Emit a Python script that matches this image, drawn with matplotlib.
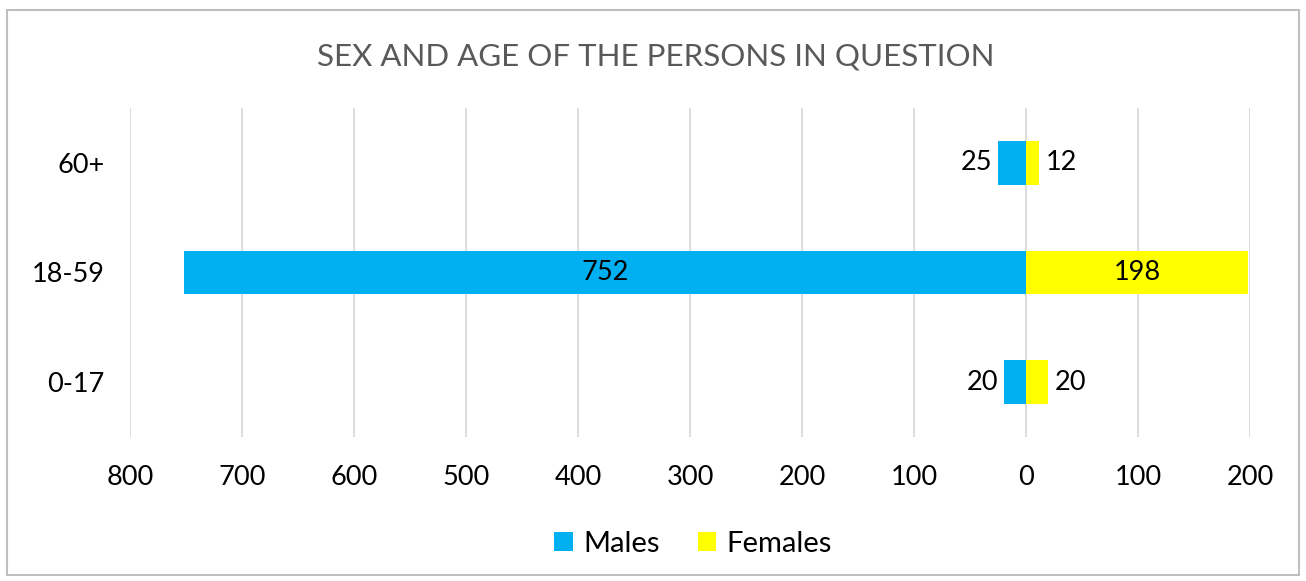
import numpy as np
import matplotlib
matplotlib.use('Agg')
import matplotlib.pyplot as plt
from matplotlib.patches import Rectangle

# Data
age_groups = ['0-17', '18-59', '60+']
males = [20, 752, 25]
females = [20, 198, 12]
x_ticks = [-800, -700, -600, -500, -400, -300, -200, -100, 0, 100, 200]

plt.rcParams['font.family'] = ['Lato', 'DejaVu Sans']

fig = plt.figure(figsize=(13.06, 5.81), dpi=100)
fig.patch.set_facecolor('white')

# chart border
fig.add_artist(Rectangle((7 / 1306, 1 - 575 / 581), 1292 / 1306, 565 / 581,
                         transform=fig.transFigure, fill=False,
                         edgecolor='#bfbfbf', linewidth=1.5))

ax = fig.add_axes([130 / 1306, 1 - 437 / 581, 1120 / 1306, 329 / 581])

y = np.arange(len(age_groups))
male_color = '#00B0F0'
female_color = '#FFFF00'
fs = 19.5

ax.barh(y, [-m for m in males], height=0.4, color=male_color, label='Males', zorder=3)
ax.barh(y, females, height=0.4, color=female_color, label='Females', zorder=3)

# value labels
for i in range(len(age_groups)):
    m, f = males[i], females[i]
    if m > 100:
        ax.text(-m / 2, y[i], str(m), ha='center', va='center', fontsize=fs, color='black', zorder=4)
    else:
        ax.text(-m - 5, y[i], str(m), ha='right', va='center', fontsize=fs, color='black', zorder=4)
    if f > 100:
        ax.text(f / 2, y[i], str(f), ha='center', va='center', fontsize=fs, color='black', zorder=4)
    else:
        ax.text(f + 6, y[i], str(f), ha='left', va='center', fontsize=fs, color='black', zorder=4)

ax.set_xlim(-800, 200)
ax.set_ylim(-0.5, 2.5)
ax.set_xticks(x_ticks)
ax.set_xticklabels([str(abs(t)) for t in x_ticks], fontsize=fs)
ax.set_yticks(y)
ax.set_yticklabels(age_groups, fontsize=fs)
ax.tick_params(axis='x', length=0, pad=20)
ax.tick_params(axis='y', length=0, pad=18)
ax.grid(axis='x', color='#d9d9d9', linewidth=1.3, zorder=0)
for s in ax.spines.values():
    s.set_visible(False)

fig.text(656 / 1306, 1 - 56 / 581, 'SEX AND AGE OF THE PERSONS IN QUESTION',
         ha='center', va='center', fontsize=22.5, color='#595959')

fig.legend(loc='center', bbox_to_anchor=(693 / 1306, 1 - 544 / 581), ncol=2,
           frameon=False, fontsize=21, handlelength=0.65, handleheight=0.65,
           columnspacing=1.3, handletextpad=0.35)

plt.savefig('out.png', dpi=100)
plt.close()
